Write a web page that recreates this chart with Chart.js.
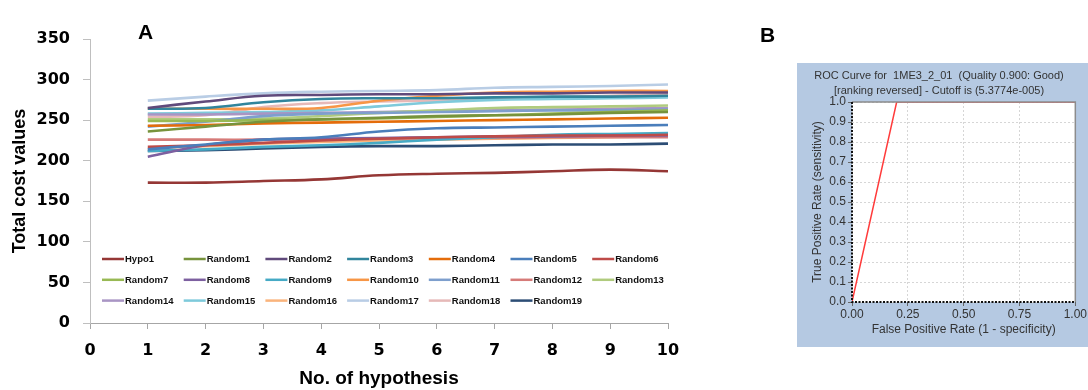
<!DOCTYPE html>
<html>
<head>
<meta charset="utf-8">
<title>Total cost values per hypothesis and ROC curve</title>
<script src="https://cdn.jsdelivr.net/npm/chart.js@4.4.1/dist/chart.umd.min.js"></script>
<style>
  html, body { margin: 0; padding: 0; background: #ffffff; }
  body { width: 1088px; height: 390px; overflow: hidden; position: relative; }
  #wrapA { position: absolute; left: 0; top: 0; width: 795px; height: 390px; }
  #wrapB { position: absolute; left: 797px; top: 63px; width: 291px; height: 284px; background: #b5c9e2; overflow: hidden; }
  .panel-tag { position: absolute; font-family: "Liberation Sans", Arial, sans-serif; font-weight: bold; font-size: 21px; color: #000; line-height: 1; }
</style>
</head>
<body>
<div id="wrapA"><canvas id="costChart" width="795" height="390"></canvas></div>
<div id="wrapB"><canvas id="rocChart" width="291" height="284"></canvas></div>
<div class="panel-tag" style="left:138px; top:21px;">A</div>
<div class="panel-tag" style="left:760px; top:24px;">B</div>

<script>
// ---- Panel A: total cost values for each pharmacophore hypothesis ----
const hypothesisNo = [1, 2, 3, 4, 5, 6, 7, 8, 9, 10];
const xTicksA = [0, 1, 2, 3, 4, 5, 6, 7, 8, 9, 10];
const yTicksA = [0, 50, 100, 150, 200, 250, 300, 350];

const seriesNames = [
  'Hypo1', 'Random1', 'Random2', 'Random3', 'Random4', 'Random5', 'Random6',
  'Random7', 'Random8', 'Random9', 'Random10', 'Random11', 'Random12', 'Random13',
  'Random14', 'Random15', 'Random16', 'Random17', 'Random18', 'Random19'
];

const hypo1    = [173, 173, 175, 177, 182, 184, 185, 187, 189, 187];
const random1  = [236, 242, 248, 251, 253, 255, 256, 257, 259, 260];
const random2  = [265, 273, 280, 281, 282, 282, 283, 283, 284, 284];
const random3  = [264, 265, 272, 276, 277, 277, 278, 279, 279, 280];
const random4  = [243, 244, 246, 247, 248, 249, 250, 251, 252, 253];
const random5  = [214, 220, 226, 229, 236, 240, 241, 242, 243, 244];
const random6  = [217, 219, 222, 225, 227, 229, 230, 231, 231, 232];
const random7  = [249, 249, 250, 251, 252, 254, 256, 258, 260, 262];
const random8  = [205, 219, 226, 227, 228, 229, 230, 230, 231, 231];
const random9  = [212, 214, 217, 219, 222, 226, 229, 232, 233, 234];
const random10 = [264, 264, 264, 265, 274, 280, 284, 285, 286, 286];
const random11 = [242, 248, 255, 258, 259, 260, 261, 262, 262, 263];
const random12 = [226, 226, 226, 227, 227, 228, 228, 229, 229, 229];
const random13 = [251, 251, 252, 255, 259, 262, 265, 266, 267, 268];
const random14 = [257, 257, 258, 259, 260, 261, 262, 263, 264, 265];
const random15 = [258, 259, 260, 262, 267, 272, 275, 276, 277, 278];
const random16 = [215, 218, 221, 223, 225, 226, 227, 228, 229, 230];
const random17 = [274, 279, 283, 285, 286, 287, 290, 291, 292, 294];
const random18 = [254, 256, 266, 271, 273, 274, 276, 278, 280, 282];
const random19 = [212, 213, 215, 217, 218, 218, 219, 220, 220, 221];

const seriesValues = [
  hypo1, random1, random2, random3, random4, random5, random6, random7, random8, random9,
  random10, random11, random12, random13, random14, random15, random16, random17, random18, random19
];

const seriesColors = [
  '#953735', '#77933c', '#604a7b', '#31859c', '#e46c0a', '#4a7ebb', '#be4b48',
  '#98b954', '#7d60a0', '#46aac5', '#f79646', '#7e9fcd', '#d67b79', '#b0cb7e',
  '#a995c4', '#7ecadb', '#fab47c', '#b9cde5', '#e6b9b8', '#2c4d75'
];

// Legend laid out as a fixed grid inside the plot area
const gridLegend = {
  id: 'gridLegend',
  afterDatasetsDraw(chart, args, opts) {
    const { ctx, chartArea } = chart;
    ctx.save();
    ctx.font = opts.font;
    ctx.textBaseline = 'middle';
    ctx.textAlign = 'left';
    chart.data.datasets.forEach((ds, i) => {
      const col = i % opts.columns;
      const row = Math.floor(i / opts.columns);
      const x = chartArea.left + opts.offsetX + col * opts.colWidth;
      const y = chartArea.top + opts.offsetY + row * opts.rowHeight;
      ctx.strokeStyle = ds.borderColor;
      ctx.lineWidth = 2.5;
      ctx.beginPath();
      ctx.moveTo(x, y);
      ctx.lineTo(x + opts.lineLength, y);
      ctx.stroke();
      ctx.fillStyle = '#111';
      ctx.fillText(ds.label, x + opts.lineLength + 1, y + 0.5);
    });
    ctx.restore();
  }
};

const costDatasets = seriesNames.map((name, i) => ({
  label: name,
  data: hypothesisNo.map((h, j) => ({ x: h, y: seriesValues[i][j] })),
  borderColor: seriesColors[i],
  backgroundColor: seriesColors[i],
  borderWidth: 2.6,
  pointRadius: 0,
  tension: 0.4,
  fill: false
}));

const tickFontA = { family: '"DejaVu Sans", sans-serif', weight: 'bold', size: 16 };

new Chart(document.getElementById('costChart'), {
  type: 'line',
  data: { datasets: costDatasets },
  options: {
    responsive: false,
    animation: false,
    events: [],
    layout: { autoPadding: false, padding: { left: 0, top: 39, right: 127, bottom: 0 } },
    plugins: {
      legend: { display: false },
      tooltip: { enabled: false },
      gridLegend: {
        font: 'bold 9.5px "Liberation Sans", Arial, sans-serif',
        columns: 7, offsetX: 12, offsetY: 220, colWidth: 81.7, rowHeight: 20.8, lineLength: 22
      }
    },
    scales: {
      x: {
        type: 'linear',
        min: xTicksA[0],
        max: xTicksA[xTicksA.length - 1],
        afterBuildTicks: s => { s.ticks = xTicksA.map(v => ({ value: v })); },
        ticks: { font: tickFontA, color: '#000', padding: 12, maxRotation: 0 },
        grid: { drawOnChartArea: false, color: '#a6a6a6', tickLength: 6 },
        border: { color: '#a6a6a6', width: 1 },
        title: {
          display: true, text: 'No. of hypothesis', color: '#000',
          font: { family: '"Liberation Sans", Arial, sans-serif', weight: 'bold', size: 19 },
          padding: { top: 0, bottom: 0 }
        },
        afterFit: s => { s.height = 67; }
      },
      y: {
        type: 'linear',
        min: yTicksA[0],
        max: yTicksA[yTicksA.length - 1],
        afterBuildTicks: s => { s.ticks = yTicksA.map(v => ({ value: v })); },
        ticks: { font: tickFontA, color: '#000', padding: 13 },
        grid: { drawOnChartArea: false, color: '#bfbfbf', tickLength: 7 },
        border: { color: '#bfbfbf', width: 1 },
        title: {
          display: true, text: 'Total cost values', color: '#000',
          font: { family: '"Liberation Sans", Arial, sans-serif', weight: 'bold', size: 18 },
          padding: { top: 9.7, bottom: 0 }
        },
        afterFit: s => { s.width = 90; }
      }
    }
  },
  plugins: [gridLegend]
});

// ---- Panel B: ROC curve ----
const rocFpr = [0.0, 0.2, 1.0];
const rocTpr = [0.0, 1.0, 1.0];
const rocXTicks = [0, 0.25, 0.5, 0.75, 1.0];
const rocYTicks = [0, 0.1, 0.2, 0.3, 0.4, 0.5, 0.6, 0.7, 0.8, 0.9, 1.0];
const rocTitle = ['ROC Curve for  1ME3_2_01  (Quality 0.900: Good)', '[ranking reversed] - Cutoff is (5.3774e-005)'];

const rocFrame = {
  id: 'rocFrame',
  beforeDraw(chart) {
    // white plot background inside the blue panel
    const { ctx, chartArea: a } = chart;
    ctx.save();
    ctx.fillStyle = '#ffffff';
    ctx.fillRect(a.left, a.top, a.right - a.left, a.bottom - a.top);
    ctx.restore();
  },
  afterDatasetsDraw(chart) {
    const { ctx, chartArea: a } = chart;
    ctx.save();
    // top and right edges
    ctx.strokeStyle = '#8c8c8c';
    ctx.lineWidth = 1.5;
    ctx.beginPath();
    ctx.moveTo(a.left, a.top);
    ctx.lineTo(a.right, a.top);
    ctx.lineTo(a.right, a.bottom);
    ctx.stroke();
    // dotted axis lines on the left and bottom
    ctx.strokeStyle = '#111';
    ctx.lineWidth = 2;
    ctx.setLineDash([2, 1.5]);
    ctx.beginPath();
    ctx.moveTo(a.left, a.top);
    ctx.lineTo(a.left, a.bottom);
    ctx.lineTo(a.right, a.bottom);
    ctx.stroke();
    ctx.restore();
  }
};

const rocFont = { family: '"Liberation Sans", Arial, sans-serif', size: 12 };

new Chart(document.getElementById('rocChart'), {
  type: 'scatter',
  data: {
    datasets: [{
      label: 'ROC',
      data: rocFpr.map((x, i) => ({ x: x, y: rocTpr[i] })),
      showLine: true,
      borderColor: '#ff3b3b',
      borderWidth: 1.5,
      pointRadius: 0,
      tension: 0
    }]
  },
  options: {
    responsive: false,
    animation: false,
    events: [],
    layout: { autoPadding: false, padding: { left: 0, top: 0, right: 7, bottom: 0 } },
    plugins: {
      legend: { display: false },
      tooltip: { enabled: false },
      title: {
        display: true,
        text: rocTitle,
        color: '#333',
        font: { family: '"Liberation Sans", Arial, sans-serif', size: 11, weight: 'normal', lineHeight: 1.35 },
        padding: { top: 5.3, bottom: 4 }
      }
    },
    scales: {
      x: {
        type: 'linear', min: 0, max: 1,
        afterBuildTicks: s => { s.ticks = rocXTicks.map(v => ({ value: v })); },
        ticks: { font: rocFont, color: '#333', padding: 1, maxRotation: 0, callback: v => Number(v).toFixed(2) },
        grid: { color: '#d6d6d6', tickColor: '#666', tickLength: 4 },
        border: { display: false, dash: [2, 2] },
        title: { display: true, text: 'False Positive Rate (1 - specificity)', color: '#333', font: rocFont, padding: { top: 0, bottom: 9.8 } },
        afterFit: s => { s.height = 45; }
      },
      y: {
        type: 'linear', min: 0, max: 1,
        afterBuildTicks: s => { s.ticks = rocYTicks.map(v => ({ value: v })); },
        ticks: { font: rocFont, color: '#333', padding: 2, callback: v => Number(v).toFixed(1) },
        grid: { color: '#d6d6d6', tickColor: '#666', tickLength: 4 },
        border: { display: false, dash: [2, 2] },
        title: { display: true, text: 'True Positive Rate (sensitivity)', color: '#333', font: rocFont, padding: { top: 13.3, bottom: 0 } },
        afterFit: s => { s.width = 55; }
      }
    }
  },
  plugins: [rocFrame]
});
</script>
</body>
</html>
